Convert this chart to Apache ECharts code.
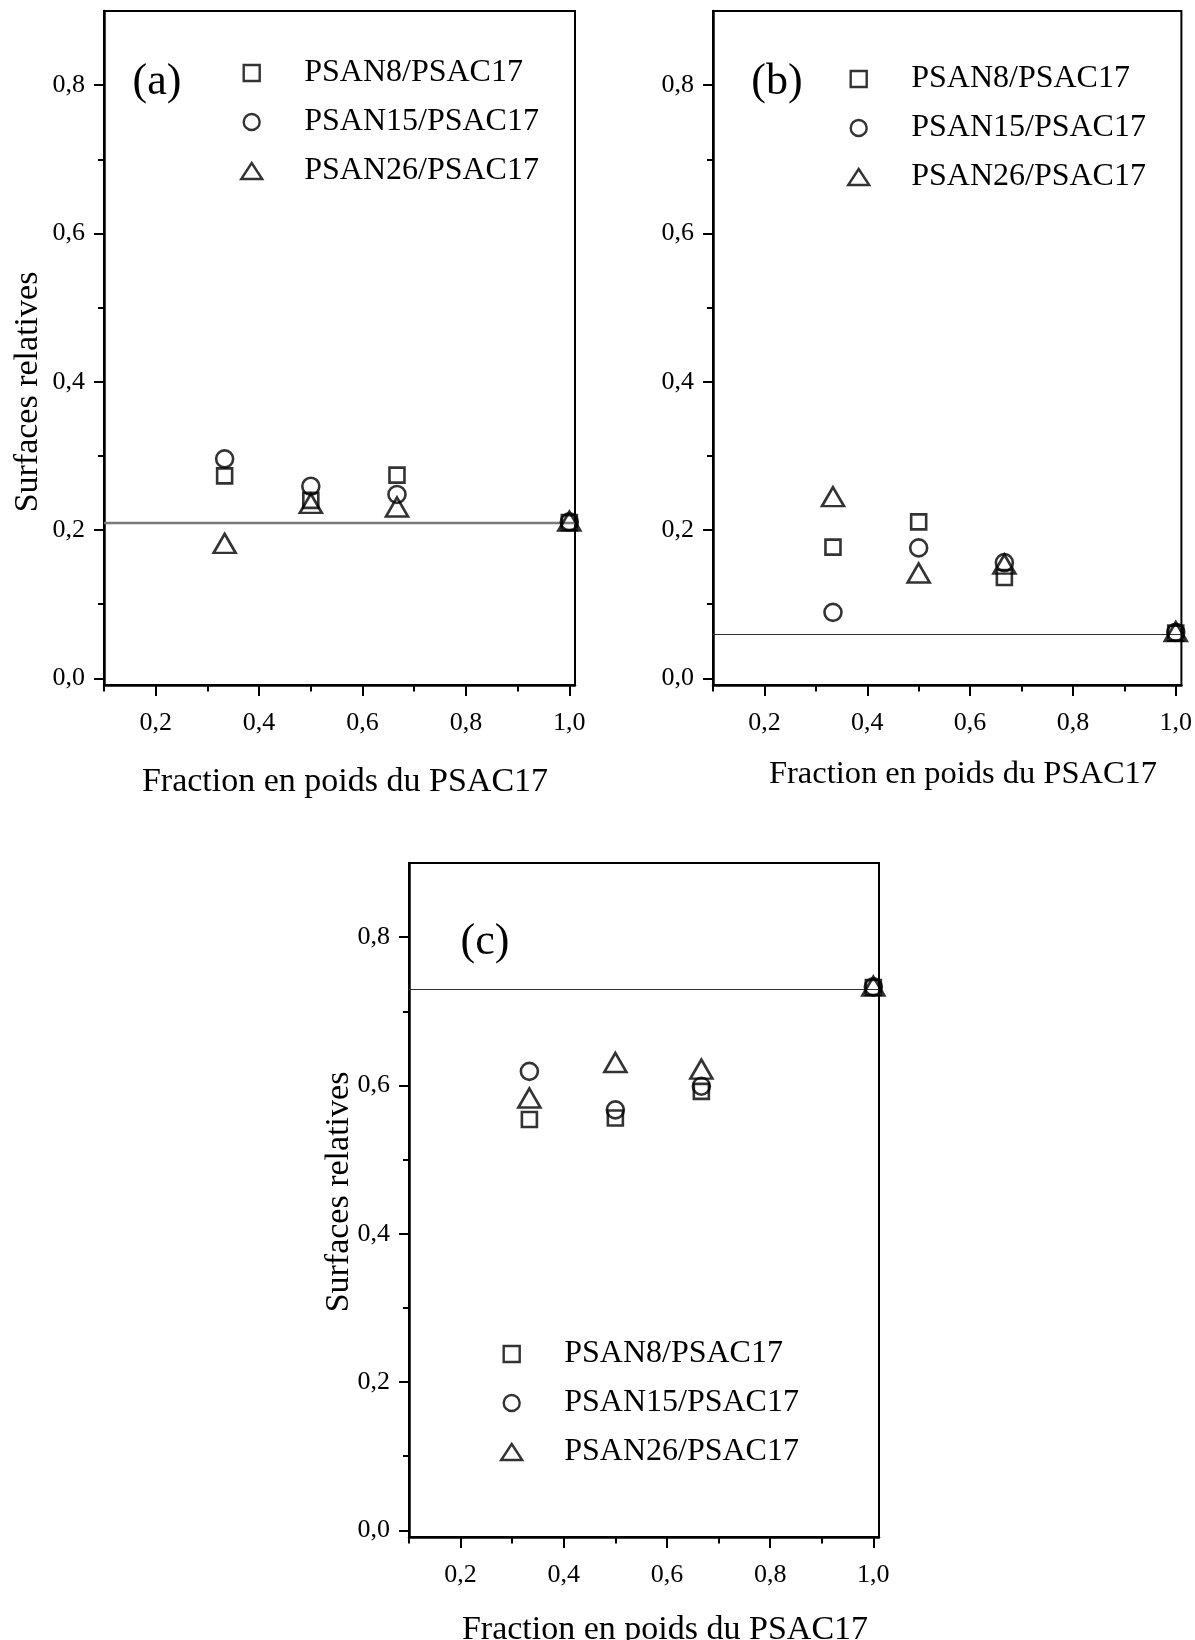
<!DOCTYPE html>
<html>
<head>
<meta charset="utf-8">
<script src="https://cdn.jsdelivr.net/npm/echarts@6/dist/echarts.min.js"></script>
<style>
  html, body { margin: 0; padding: 0; background: #fff; }
  #chart { width: 1195px; height: 1640px; }
</style>
</head>
<body>
<div id="chart"></div>
<script>
// Weight fraction of PSAC17 in each blend
const fractions = [1 / 3, 0.5, 2 / 3, 1.0];
const seriesNames = ['PSAN8/PSAC17', 'PSAN15/PSAC17', 'PSAN26/PSAC17'];

// Panel (a)
const aPsan8 = [0.273, 0.240, 0.274, 0.210];
const aPsan15 = [0.296, 0.259, 0.248, 0.211];
const aPsan26 = [0.182, 0.236, 0.231, 0.212];
const aReference = 0.21;

// Panel (b)
const bPsan8 = [0.177, 0.211, 0.136, 0.061];
const bPsan15 = [0.089, 0.176, 0.156, 0.062];
const bPsan26 = [0.245, 0.142, 0.154, 0.063];
const bReference = 0.06;

// Panel (c)
const cPsan8 = [0.554, 0.556, 0.592, 0.732];
const cPsan15 = [0.619, 0.567, 0.599, 0.733];
const cPsan26 = [0.583, 0.631, 0.622, 0.734];
const cReference = 0.73;

// Axis ticks
const xMajorTicks = [0.2, 0.4, 0.6, 0.8, 1.0];
const xMinorTicks = [0.1, 0.3, 0.5, 0.7, 0.9];
const yMajorTicks = [0.0, 0.2, 0.4, 0.6, 0.8];
const yMinorTicks = [0.1, 0.3, 0.5, 0.7];

const xTitle = 'Fraction en poids du PSAC17';
const yTitle = 'Surfaces relatives';

const FONT = "'Liberation Serif', 'Times New Roman', serif";
const fmt = v => v.toFixed(1).replace('.', ',');

const panels = [
  { tag: '(a)', data: [aPsan8, aPsan15, aPsan26], ref: aReference,
    grid: { left: 104, top: 11, width: 471, height: 674 },
    refStyle: { color: '#7a7a7a', width: 2.4 },
    legend: { left: 240, top: 57 },
    tagPos: [157, 82], xTitlePos: [345, 782], xTitleSize: 34, yTitlePos: [28, 392] },
  { tag: '(b)', data: [bPsan8, bPsan15, bPsan26], ref: bReference,
    grid: { left: 713, top: 11, width: 470, height: 674 },
    refStyle: { color: '#333', width: 1.2 },
    legend: { left: 847, top: 63 },
    tagPos: [777, 82], xTitlePos: [963, 774], xTitleSize: 32.5, yTitlePos: null },
  { tag: '(c)', data: [cPsan8, cPsan15, cPsan26], ref: cReference,
    grid: { left: 409, top: 863, width: 470, height: 674 },
    refStyle: { color: '#333', width: 1.2 },
    legend: { left: 500, top: 1338 },
    tagPos: [485, 942], xTitlePos: [665, 1630], xTitleSize: 34, yTitlePos: [339, 1192] }
];

const symbols = [
  { symbol: 'rect', size: 15, icon: 'path://M0,0L10,0L10,10L0,10Z' },
  { symbol: 'circle', size: 17, icon: 'circle' },
  { symbol: 'triangle', size: [22, 19], icon: 'triangle' }
];

const grids = [], xAxes = [], yAxes = [], series = [], legends = [], graphics = [];

panels.forEach((p, i) => {
  grids.push(Object.assign({
    show: true, borderColor: '#000', borderWidth: 2,
    backgroundColor: 'transparent', containLabel: false
  }, p.grid));

  // major x axis with labels
  xAxes.push({
    gridIndex: i, type: 'value', min: 0.1, max: 1.011, position: 'bottom',
    axisLine: { onZero: false, lineStyle: { color: '#000', width: 2.5 } },
    axisTick: { customValues: xMajorTicks, length: 11, lineStyle: { color: '#000', width: 2 } },
    axisLabel: { customValues: xMajorTicks, formatter: fmt, margin: 25,
      fontSize: 26, fontFamily: FONT, color: '#000' },
    splitLine: { show: false }
  });
  // minor x ticks
  xAxes.push({
    gridIndex: i, type: 'value', min: 0.1, max: 1.011, position: 'bottom',
    axisLine: { show: false, onZero: false },
    axisTick: { customValues: xMinorTicks, length: 6.5, lineStyle: { color: '#000', width: 2 } },
    axisLabel: { show: false },
    splitLine: { show: false }
  });
  // major y axis with labels
  yAxes.push({
    gridIndex: i, type: 'value', min: -0.009, max: 0.9, position: 'left',
    axisLine: { onZero: false, lineStyle: { color: '#000', width: 2.5 } },
    axisTick: { customValues: yMajorTicks, length: 10, lineStyle: { color: '#000', width: 2 } },
    axisLabel: { customValues: yMajorTicks, formatter: fmt, margin: 19,
      fontSize: 26, fontFamily: FONT, color: '#000' },
    splitLine: { show: false }
  });
  // minor y ticks
  yAxes.push({
    gridIndex: i, type: 'value', min: -0.009, max: 0.9, position: 'left',
    axisLine: { show: false, onZero: false },
    axisTick: { customValues: yMinorTicks, length: 6, lineStyle: { color: '#000', width: 2 } },
    axisLabel: { show: false },
    splitLine: { show: false }
  });

  p.data.forEach((vals, k) => {
    const s = {
      type: 'scatter', name: seriesNames[k],
      xAxisIndex: i * 2, yAxisIndex: i * 2,
      symbol: symbols[k].symbol, symbolSize: symbols[k].size,
      itemStyle: { color: 'transparent', borderColor: '#000', borderWidth: 2.6 },
      data: fractions.map((f, j) => [f, vals[j]]),
      z: 3
    };
    if (k === 0) {
      s.markLine = {
        silent: true, symbol: 'none', label: { show: false },
        lineStyle: { type: 'solid', color: p.refStyle.color, width: p.refStyle.width },
        data: [{ yAxis: p.ref }], z: 1
      };
    }
    series.push(s);
  });

  legends.push({
    orient: 'vertical', left: p.legend.left, top: p.legend.top, padding: 0,
    itemWidth: 21, itemHeight: 16, itemGap: 17, selectedMode: false,
    textStyle: { fontSize: 32, fontFamily: FONT, color: '#000', lineHeight: 32,
      padding: [0, 0, 0, 37] },
    data: seriesNames.map((n, k) => ({
      name: n, icon: symbols[k].icon,
      itemStyle: { color: 'transparent', borderColor: '#000', borderWidth: 2.4 }
    }))
  });

  graphics.push({
    type: 'text', x: p.tagPos[0], y: p.tagPos[1],
    style: { text: p.tag, fontSize: 44, fontFamily: FONT, fill: '#000',
      align: 'center', verticalAlign: 'middle', textAlign: 'center', textVerticalAlign: 'middle' }
  });
  graphics.push({
    type: 'text', x: p.xTitlePos[0], y: p.xTitlePos[1],
    style: { text: xTitle, fontSize: p.xTitleSize, fontFamily: FONT, fill: '#000',
      align: 'center', verticalAlign: 'middle', textAlign: 'center', textVerticalAlign: 'middle' }
  });
  if (p.yTitlePos) {
    graphics.push({
      type: 'text', x: p.yTitlePos[0], y: p.yTitlePos[1], rotation: Math.PI / 2,
      style: { text: yTitle, fontSize: 34, fontFamily: FONT, fill: '#000',
        align: 'center', verticalAlign: 'middle', textAlign: 'center', textVerticalAlign: 'middle' }
    });
  }
});

const chart = echarts.init(document.getElementById('chart'), null, { renderer: 'canvas' });
chart.setOption({
  animation: false,
  backgroundColor: '#fff',
  grid: grids,
  xAxis: xAxes,
  yAxis: yAxes,
  legend: legends,
  graphic: graphics,
  series: series
});
</script>
</body>
</html>
